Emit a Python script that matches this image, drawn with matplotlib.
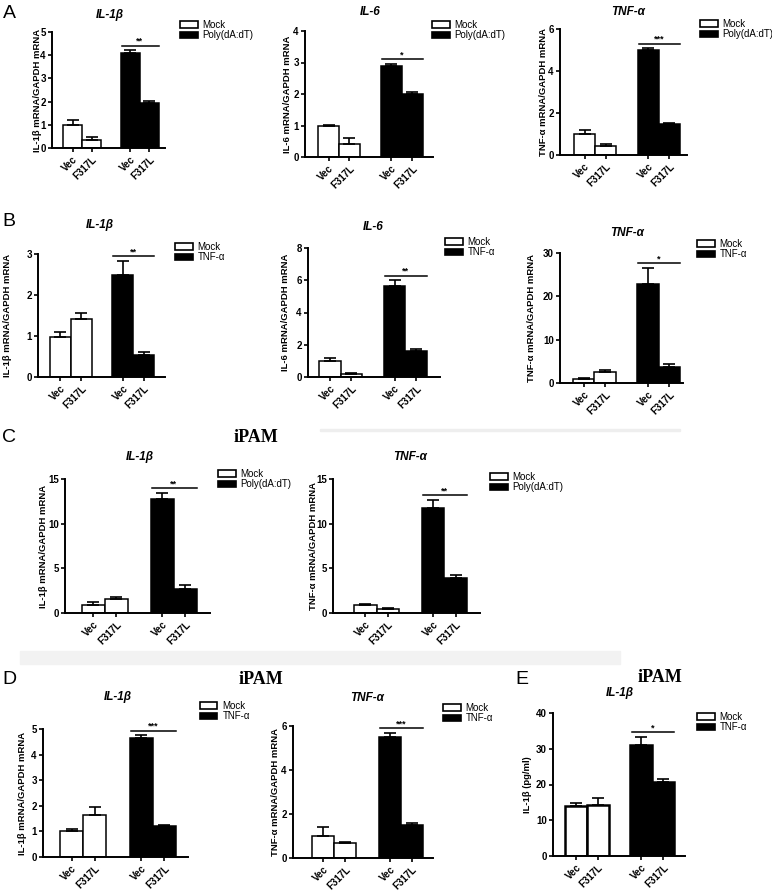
import matplotlib
matplotlib.use('Agg')
import matplotlib.pyplot as plt
from matplotlib.patches import Patch, Rectangle

plt.rcParams['font.family'] = ['Liberation Sans', 'DejaVu Sans']

W, H = 772, 891

groups = ['Vec', 'F317L']

# values: mean and upper error for Mock / stimulated
a_il1b_mock, a_il1b_mock_sd = [1.00, 0.35], [0.20, 0.14]
a_il1b_stim, a_il1b_stim_sd = [4.10, 1.95], [0.12, 0.07]
a_il6_mock, a_il6_mock_sd = [1.00, 0.41], [0.02, 0.19]
a_il6_stim, a_il6_stim_sd = [2.89, 1.99], [0.07, 0.08]
a_tnf_mock, a_tnf_mock_sd = [1.00, 0.43], [0.20, 0.10]
a_tnf_stim, a_tnf_stim_sd = [5.02, 1.50], [0.07, 0.04]

b_il1b_mock, b_il1b_mock_sd = [0.98, 1.42], [0.12, 0.13]
b_il1b_stim, b_il1b_stim_sd = [2.49, 0.53], [0.35, 0.07]
b_il6_mock, b_il6_mock_sd = [0.98, 0.20], [0.20, 0.07]
b_il6_stim, b_il6_stim_sd = [5.62, 1.61], [0.37, 0.10]
b_tnf_mock, b_tnf_mock_sd = [0.85, 2.50], [0.20, 0.45]
b_tnf_stim, b_tnf_stim_sd = [22.9, 3.70], [3.70, 0.70]

c_il1b_mock, c_il1b_mock_sd = [0.95, 1.62], [0.25, 0.22]
c_il1b_stim, c_il1b_stim_sd = [12.8, 2.70], [0.62, 0.38]
c_tnf_mock, c_tnf_mock_sd = [0.95, 0.48], [0.10, 0.12]
c_tnf_stim, c_tnf_stim_sd = [11.8, 3.95], [0.85, 0.30]

d_il1b_mock, d_il1b_mock_sd = [1.00, 1.66], [0.08, 0.28]
d_il1b_stim, d_il1b_stim_sd = [4.66, 1.20], [0.10, 0.04]
d_tnf_mock, d_tnf_mock_sd = [1.01, 0.68], [0.40, 0.06]
d_tnf_stim, d_tnf_stim_sd = [5.51, 1.52], [0.17, 0.07]

e_il1b_mock, e_il1b_mock_sd = [14.1, 14.2], [0.8, 2.0]
e_il1b_stim, e_il1b_stim_sd = [31.1, 20.8], [2.1, 0.8]


def fx(x):
    return x / W


def fy(y):
    return 1 - y / H


fig = plt.figure(figsize=(W / 100, H / 100), dpi=100)


def panel(box, xl, yticks, mock, mock_sd, stim, stim_sd, stim_name, stars,
          title, title_xy, ylabel, ylab_x, leg_xy, lw=1.1):
    left, right, zero, top = box
    ax = fig.add_axes([fx(left), fy(zero), (right - left) / W, (zero - top) / H])
    ymax = yticks[-1]
    pm, ps = [1, 2], [4, 5]
    ax.bar(pm, mock, width=1, color='white', edgecolor='black', lw=lw, zorder=2)
    ax.bar(ps, stim, width=1, color='black', edgecolor='black', lw=lw, zorder=2)
    ax.errorbar(pm, mock, yerr=[[0, 0], mock_sd], fmt='none', ecolor='black',
                elinewidth=1.2, capsize=4, capthick=1.2, zorder=3)
    ax.errorbar(ps, stim, yerr=[[0, 0], stim_sd], fmt='none', ecolor='black',
                elinewidth=1.2, capsize=4, capthick=1.2, zorder=1)
    ax.set_xlim(*xl)
    ax.set_ylim(0, ymax)
    ax.set_yticks(yticks)
    ax.set_yticklabels([str(t) for t in yticks], fontsize=7, fontweight='bold')
    ax.set_xticks(pm + ps)
    ax.set_xticklabels(groups * 2, rotation=45, ha='right', rotation_mode='anchor',
                       fontsize=7, fontweight='bold')
    for s in ['top', 'right']:
        ax.spines[s].set_visible(False)
    for s in ['left', 'bottom']:
        ax.spines[s].set_linewidth(1.4)
    ax.tick_params(width=1.2, length=3, pad=1.5)
    # significance bar
    ysig = max(v + e for v, e in zip(stim, stim_sd)) + 0.035 * ymax
    ax.plot([3.55, 5.5], [ysig, ysig], color='black', lw=1.1, clip_on=False)
    ax.text(4.5, ysig, stars, ha='center', va='bottom', fontsize=6.5, fontweight='bold')
    fig.text(fx(title_xy[0]), fy(title_xy[1]), title, ha='center', va='center',
             fontsize=8.5, fontweight='bold', style='italic')
    fig.text(fx(ylab_x), fy((zero + top) / 2), ylabel, rotation=90, ha='center',
             va='center', fontsize=6.8, fontweight='bold')
    handles = [Patch(facecolor='white', edgecolor='black', lw=1.2, label='Mock'),
               Patch(facecolor='black', edgecolor='black', lw=1.2, label=stim_name)]
    fig.legend(handles=handles, loc='upper left',
               bbox_to_anchor=(fx(leg_xy[0]), fy(leg_xy[1])), frameon=False,
               fontsize=7, handlelength=1.8, handleheight=0.65, handletextpad=0.5,
               labelspacing=0.05, borderpad=0, borderaxespad=0)
    return ax


# light separator bands seen in the composite
fig.patches.append(Rectangle((fx(20), fy(664)), fx(600), 13 / H, transform=fig.transFigure,
                             color='#f2f2f2', zorder=0))
fig.patches.append(Rectangle((fx(320), fy(431)), fx(360), 2 / H, transform=fig.transFigure,
                             color='#eeeeee', zorder=0))

il1b = 'IL-1\u03b2 mRNA/GAPDH mRNA'
il6 = 'IL-6 mRNA/GAPDH mRNA'
tnf = 'TNF-\u03b1 mRNA/GAPDH mRNA'
poly = 'Poly(dA:dT)'
tnfa = 'TNF-\u03b1'

# A
panel((52, 165, 148, 32), (-0.07, 5.81), [0, 1, 2, 3, 4, 5], a_il1b_mock, a_il1b_mock_sd,
      a_il1b_stim, a_il1b_stim_sd, poly, '**', 'IL-1\u03b2', (110, 15), il1b, 37, (180, 20))
panel((305, 433, 157, 31), (-0.12, 5.98), [0, 1, 2, 3, 4], a_il6_mock, a_il6_mock_sd,
      a_il6_stim, a_il6_stim_sd, poly, '*', 'IL-6', (370, 12), il6, 288, (432, 20))
panel((560, 687, 155, 29), (-0.16, 5.83), [0, 2, 4, 6], a_tnf_mock, a_tnf_mock_sd,
      a_tnf_stim, a_tnf_stim_sd, poly, '***', 'TNF-\u03b1', (628, 12), tnf, 543, (700, 19))
# B
panel((38, 165, 377, 254), (-0.08, 6.03), [0, 1, 2, 3], b_il1b_mock, b_il1b_mock_sd,
      b_il1b_stim, b_il1b_stim_sd, tnfa, '**', 'IL-1\u03b2', (100, 225), il1b, 8, (175, 242))
panel((308, 440, 377, 248), (-0.01, 6.1), [0, 2, 4, 6, 8], b_il6_mock, b_il6_mock_sd,
      b_il6_stim, b_il6_stim_sd, tnfa, '**', 'IL-6', (373, 227), il6, 285, (445, 237))
panel((560, 683, 383, 253), (-0.11, 5.64), [0, 10, 20, 30], b_tnf_mock, b_tnf_mock_sd,
      b_tnf_stim, b_tnf_stim_sd, tnfa, '*', 'TNF-\u03b1', (627, 233), tnf, 532, (697, 239))
# C
panel((65, 210, 613, 479), (-0.24, 6.07), [0, 5, 10, 15], c_il1b_mock, c_il1b_mock_sd,
      c_il1b_stim, c_il1b_stim_sd, poly, '**', 'IL-1\u03b2', (140, 457), il1b, 43, (218, 469))
panel((333, 480, 613, 479), (-0.43, 6.08), [0, 5, 10, 15], c_tnf_mock, c_tnf_mock_sd,
      c_tnf_stim, c_tnf_stim_sd, poly, '**', 'TNF-\u03b1', (410, 457), tnf, 313, (490, 472))
# D
panel((43, 188, 857, 729), (-0.23, 6.02), [0, 1, 2, 3, 4, 5], d_il1b_mock, d_il1b_mock_sd,
      d_il1b_stim, d_il1b_stim_sd, tnfa, '***', 'IL-1\u03b2', (118, 697), il1b, 23, (200, 701))
panel((293, 433, 858, 726), (-0.36, 5.95), [0, 2, 4, 6], d_tnf_mock, d_tnf_mock_sd,
      d_tnf_stim, d_tnf_stim_sd, tnfa, '***', 'TNF-\u03b1', (367, 698), tnf, 276, (443, 703))
# E
panel((553, 685, 856, 713), (-0.05, 6.0), [0, 10, 20, 30, 40], e_il1b_mock, e_il1b_mock_sd,
      e_il1b_stim, e_il1b_stim_sd, tnfa, '*', 'IL-1\u03b2', (620, 693), 'IL-1\u03b2 (pg/ml)',
      527, (697, 712), lw=1.8)

# panel letters and cell-line headers
for letter, x, y in [('A', 9, 13), ('B', 9, 222), ('C', 9, 438), ('D', 9, 679), ('E', 522, 679)]:
    fig.text(fx(x), fy(y), letter, ha='center', va='center', fontsize=14)
for x, y in [(256, 437), (261, 679), (660, 678)]:
    fig.text(fx(x), fy(y), 'iPAM', ha='center', va='center', fontsize=13,
             fontweight='bold', family='Liberation Serif')

fig.savefig('out.png', dpi=100)
